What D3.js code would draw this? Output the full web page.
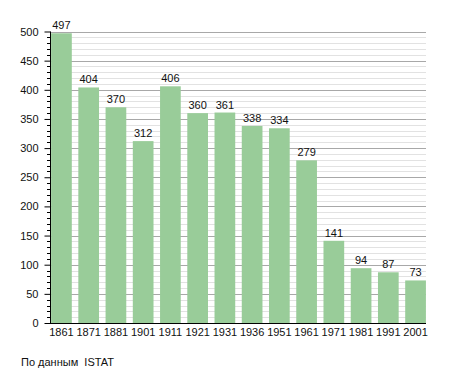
<!DOCTYPE html>
<html>
<head>
<meta charset="utf-8">
<script src="https://cdn.jsdelivr.net/npm/d3@7"></script>
<style>
  body { margin: 0; background: #fff; }
  text { font-family: "Liberation Sans", Arial, sans-serif; }
</style>
</head>
<body>
<div id="chart"></div>
<script>
const anni = ["1861", "1871", "1881", "1901", "1911", "1921", "1931", "1936", "1951", "1961", "1971", "1981", "1991", "2001"];
const abitanti = [497, 404, 370, 312, 406, 360, 361, 338, 334, 279, 141, 94, 87, 73];
const tickMaggiori = [0, 50, 100, 150, 200, 250, 300, 350, 400, 450, 500];
const fonte = "По данным  ISTAT";

const svg = d3.select("#chart").append("svg")
    .attr("width", 455)
    .attr("height", 373);

const x0 = 50, x1 = 426;
const escalaY = d3.scaleLinear()
    .domain([0, 500])
    .range([323, 31.5]);
const escalaX = d3.scaleBand()
    .domain(anni)
    .range([x0, 427])
    .paddingInner(0.24)
    .paddingOuter(0.04);

// griglia minore ogni 10
const minori = d3.range(0, 501, 10).filter(v => v % 50 !== 0);
svg.append("g").selectAll("line")
    .data(minori)
    .join("line")
    .attr("x1", x0).attr("x2", x1)
    .attr("y1", d => Math.round(escalaY(d)) + 0.5)
    .attr("y2", d => Math.round(escalaY(d)) + 0.5)
    .attr("stroke", "#e2e2e2");

// griglia maggiore
svg.append("g").selectAll("line")
    .data(tickMaggiori.filter(v => v > 0))
    .join("line")
    .attr("x1", x0).attr("x2", x1)
    .attr("y1", d => Math.round(escalaY(d)) + 0.5)
    .attr("y2", d => Math.round(escalaY(d)) + 0.5)
    .attr("stroke", "#a8a8a8");

// barre
svg.append("g").selectAll("rect")
    .data(abitanti)
    .join("rect")
    .attr("x", (d, i) => escalaX(anni[i]))
    .attr("width", escalaX.bandwidth())
    .attr("y", d => escalaY(d))
    .attr("height", d => escalaY(0) - escalaY(d))
    .attr("fill", "#99cc99");

// valori sopra le barre
svg.append("g").selectAll("text")
    .data(abitanti)
    .join("text")
    .attr("x", (d, i) => escalaX(anni[i]) + escalaX.bandwidth() / 2)
    .attr("y", d => escalaY(d) - 4)
    .attr("text-anchor", "middle")
    .attr("font-size", 11)
    .attr("fill", "#111")
    .text(d => d);

// asse y
const asseY = d3.axisLeft(escalaY)
    .tickValues(tickMaggiori)
    .tickSize(6)
    .tickPadding(6);
const gY = svg.append("g")
    .attr("transform", `translate(${x0 + 0.5},0)`)
    .call(asseY);
gY.select(".domain").remove();
gY.selectAll("text").attr("font-size", 11).attr("fill", "#111")
    .style("font-family", "'Liberation Sans', Arial, sans-serif");
gY.selectAll(".tick line").attr("stroke", "#000");

svg.append("g").selectAll("line")
    .data(minori)
    .join("line")
    .attr("x1", x0 - 3).attr("x2", x0)
    .attr("y1", d => Math.round(escalaY(d)) + 0.5)
    .attr("y2", d => Math.round(escalaY(d)) + 0.5)
    .attr("stroke", "#000");

svg.append("line")
    .attr("x1", x0 + 0.5).attr("x2", x0 + 0.5)
    .attr("y1", escalaY(500)).attr("y2", escalaY(0))
    .attr("stroke", "#000");

// asse x
const asseX = d3.axisBottom(escalaX).tickSize(0).tickPadding(5);
const gX = svg.append("g")
    .attr("transform", `translate(0,${escalaY(0)})`)
    .call(asseX);
gX.select(".domain").attr("d", `M${x0},0.5H${x1}`).attr("stroke", "#000");
gX.selectAll("text").attr("font-size", 11).attr("fill", "#111")
    .style("font-family", "'Liberation Sans', Arial, sans-serif");

svg.append("text")
    .attr("x", 21)
    .attr("y", 366)
    .attr("font-size", 11)
    .attr("fill", "#111")
    .attr("xml:space", "preserve")
    .style("white-space", "pre")
    .text(fonte);
</script>
</body>
</html>
